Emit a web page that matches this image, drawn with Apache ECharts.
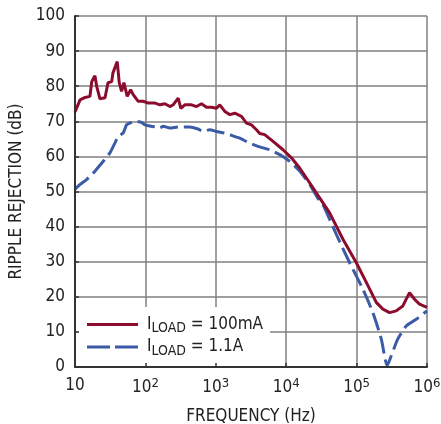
<!DOCTYPE html>
<html>
<head>
<meta charset="utf-8">
<script src="https://cdn.jsdelivr.net/npm/echarts@6/dist/echarts.min.js"></script>
<style>
html, body { margin: 0; padding: 0; background: #fff; }
#chart { width: 441px; height: 424px; }
</style>
</head>
<body>
<div id="chart"></div>
<script>
var FONT = '"Liberation Sans Narrow", "DejaVu Sans Condensed", sans-serif';

// x ticks (Hz) and their exponent labels
var xTicks = [10, 100, 1000, 10000, 100000, 1000000];
var xTickSup = ['', '2', '3', '4', '5', '6'];
var yTicks = [0, 10, 20, 30, 40, 50, 60, 70, 80, 90, 100];

// ILOAD = 100mA
var redFreq = [10, 11.8, 13.9, 16.3, 17.3, 19.2, 20.3, 22.6, 26.7, 29.4, 33.2, 34.6, 39.8, 42.5, 45.9, 49.5,
	55.2, 61.7, 67.1, 79, 93, 110, 116, 137, 161, 189, 223, 248, 292, 319, 363, 452, 532, 626, 737, 868,
	1023, 1140, 1343, 1581, 1862, 2314, 2725, 3209, 3779, 4206, 4953, 6501, 9016, 11860, 15530, 21530,
	29850, 41390, 63970, 99100, 137400, 190300, 236100, 294000, 365600, 453900, 564700, 665000, 783000, 1000000];
var redDb = [72.7, 76.1, 76.8, 77.1, 81.3, 83, 80, 76.4, 76.7, 81, 81.3, 83.8, 87, 81, 78.5, 81,
	77.1, 79, 77.6, 75.7, 75.7, 75.2, 74.7, 75.2, 74.7, 75, 74.2, 74.7, 76.6, 73.7, 74.7, 74.7, 74.2, 75, 74, 74,
	73.7, 74.7, 72.8, 71.9, 72.3, 71.4, 69.5, 69, 67.6, 66.5, 66.2, 64.3, 61.9, 59.6, 56.7, 52.5,
	48.2, 43.9, 36.4, 29.7, 24.1, 18.4, 16.5, 15.5, 16, 17.4, 21.2, 19.3, 17.9, 17];

// ILOAD = 1.1A
var blueFreq = [10, 11.8, 14.6, 19.2, 25.2, 31.3, 36.9, 41.1, 48.4, 54.1, 63.7, 75, 88.3, 98.4, 137, 161, 179,
	223, 292, 428, 561, 660, 822, 1023, 1419, 1967, 2188, 3034, 4206, 5834, 8091, 11220, 15530, 21530,
	29850, 33270, 51520, 79620, 122800, 170300, 223900, 272300, 310400, 385400, 507100, 703000, 1000000];
var blueDb = [50.6, 52, 53.4, 55.8, 58.6, 61, 63.8, 65.7, 66.7, 69, 69.7, 70, 69.7, 69, 68.4, 68.1, 68.6,
	68.1, 68.4, 68.4, 67.8, 67.1, 67.6, 67.1, 66.5, 65.5, 65.2, 63.8, 62.7, 61.9, 60.5, 58.6, 55.8, 52,
	47.2, 46.3, 37.8, 29.7, 22.2, 15.5, 8, 0.4, 3.2, 8, 11.7, 13.6, 16];

function pairs(xs, ys) {
	var out = [];
	for (var i = 0; i < xs.length; i++) {
		out.push([xs[i], ys[i]]);
	}
	return out;
}

function xLabel(v) {
	var i = xTicks.indexOf(Math.round(v));
	if (i < 0) return '';
	if (xTickSup[i] == '') return '{b|10}';
	return '{b|10}{p|' + xTickSup[i] + '}';
}

var myChart = echarts.init(document.getElementById('chart'));
var labelStyle = { fontFamily: FONT, fontSize: 17, color: '#222' };
var gridColor = '#808080';
var redColor = '#8c0c2e';
var blueColor = '#3b5ba6';

var option = {
	animation: false,
	backgroundColor: '#fff',
	grid: { left: 75, right: 14, top: 16, bottom: 57, outerBoundsMode: 'none', containLabel: false },
	legend: {
		left: 77,
		top: 307,
		orient: 'vertical',
		backgroundColor: '#fff',
		padding: [9, 7, 10, 10],
		itemWidth: 51,
		itemHeight: 3,
		itemGap: 3,
		data: [
			{ name: '100mA', icon: 'path://M0,0H51V3H0Z' },
			{ name: '1.1A', icon: 'path://M0,0H23V3H0Z M28,0H51V3H28Z' }
		],
		formatter: function(name) {
			return '{n|I}{s|LOAD}{n| = ' + name + '}';
		},
		textStyle: {
			padding: [0, 0, 0, 4],
			rich: {
				n: { fontFamily: FONT, fontSize: 17, color: '#222' },
				s: { fontFamily: FONT, fontSize: 14, color: '#222', padding: [8, 0, 0, 0] }
			}
		}
	},
	xAxis: [{
		// grid lines only
		type: 'log', logBase: 10, min: 10, max: 1000000,
		axisLine: { show: false }, axisTick: { show: false }, axisLabel: { show: false },
		splitLine: { show: true, lineStyle: { color: gridColor, width: 1.5 } },
		minorTick: { show: false }, z: 0
	}, {
		type: 'log', logBase: 10, min: 10, max: 1000000, position: 'bottom',
		z: 6,
		axisLine: { show: true, lineStyle: { color: '#333', width: 2 } },
		axisTick: { show: true, inside: true, length: 4, lineStyle: { color: '#333', width: 1.5 } },
		splitLine: { show: false },
		axisLabel: {
			margin: 10,
			formatter: xLabel,
			rich: {
				b: labelStyle,
				p: { fontFamily: FONT, fontSize: 13, color: '#222', padding: [0, 0, 9, 0] }
			}
		},
		name: 'FREQUENCY (Hz)',
		nameLocation: 'middle',
		nameGap: 41,
		nameTextStyle: labelStyle
	}],
	yAxis: [{
		type: 'value', min: 0, max: 100, interval: 10,
		axisLine: { show: false }, axisTick: { show: false }, axisLabel: { show: false },
		splitLine: { show: true, lineStyle: { color: gridColor, width: 1.5 } },
		z: 0
	}, {
		type: 'value', min: 0, max: 100, interval: 10, position: 'left',
		z: 6,
		axisLine: { show: true, lineStyle: { color: '#333', width: 2 } },
		axisTick: { show: true, inside: true, length: 4, lineStyle: { color: '#333', width: 1.5 } },
		splitLine: { show: false },
		axisLabel: {
			margin: 10,
			fontFamily: FONT, fontSize: 17, color: '#222',
			formatter: function(v) { return yTicks.indexOf(v) >= 0 ? String(v) : ''; }
		},
		name: 'RIPPLE REJECTION (dB)',
		nameLocation: 'middle',
		nameRotate: 90,
		nameGap: 47,
		nameTextStyle: labelStyle
	}],
	series: [{
		name: '100mA',
		type: 'line',
		xAxisIndex: 0,
		yAxisIndex: 0,
		symbol: 'none',
		z: 3,
		lineStyle: { color: redColor, width: 3 },
		itemStyle: { color: redColor },
		data: pairs(redFreq, redDb)
	}, {
		name: '1.1A',
		type: 'line',
		xAxisIndex: 0,
		yAxisIndex: 0,
		symbol: 'none',
		smooth: 0.2,
		z: 2,
		lineStyle: { color: blueColor, width: 3, type: [18, 6] },
		itemStyle: { color: blueColor },
		data: pairs(blueFreq, blueDb)
	}]
};
myChart.setOption(option);
window.onresize = myChart.resize;
</script>
</body>
</html>
